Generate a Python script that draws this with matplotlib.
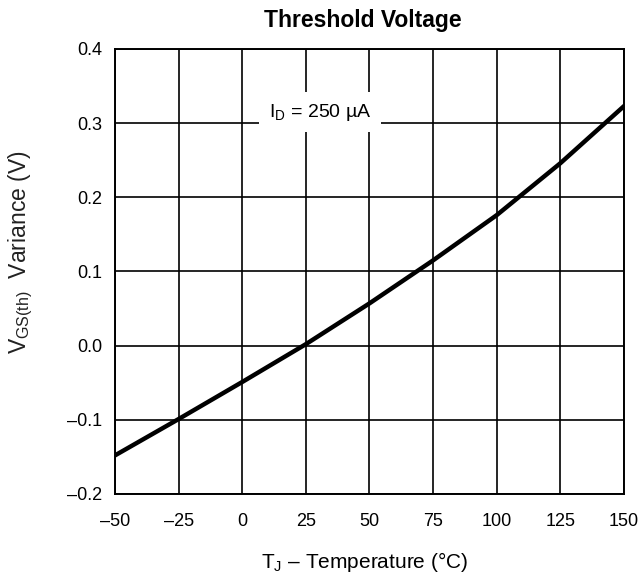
import matplotlib
matplotlib.use('Agg')
import matplotlib.pyplot as plt

plt.rcParams['font.family'] = ['Liberation Sans', 'DejaVu Sans']
plt.rcParams['mathtext.fontset'] = 'custom'
plt.rcParams['mathtext.rm'] = 'Liberation Sans'

# Valeurs
temperature = [-50, -25, 0, 25, 50, 75, 100, 125, 150]
variance = [-0.148, -0.099, -0.049, 0.002, 0.057, 0.115, 0.176, 0.246, 0.323]

x_ticks = [-50, -25, 0, 25, 50, 75, 100, 125, 150]
x_labels = ['\u201350', '\u201325', '0', '25', '50', '75', '100', '125', '150']
y_ticks = [-0.2, -0.1, 0.0, 0.1, 0.2, 0.3, 0.4]
y_labels = ['\u20130.2', '\u20130.1', '0.0', '0.1', '0.2', '0.3', '0.4']

fig = plt.figure(figsize=(6.43, 5.76), dpi=100)
ax = fig.add_axes([0.1788, 0.1424, 0.7917, 0.7726])

ax.plot(temperature, variance, color='black', linewidth=3.2, zorder=3)

ax.set_xlim(-50, 150)
ax.set_ylim(-0.2, 0.4)
ax.set_xticks(x_ticks)
ax.set_xticklabels(x_labels)
ax.set_yticks(y_ticks)
ax.set_yticklabels(y_labels)
ax.tick_params(length=0, labelsize=13)
ax.tick_params(axis='x', pad=14)
ax.tick_params(axis='y', pad=9)
ax.grid(True, color='black', linewidth=1.2)
for s in ax.spines.values():
    s.set_linewidth(1.4)

# Annotation avec fond blanc
ax.text(30.5, 0.315, 'I$_\\mathregular{D}$ = 250 \u00b5A', fontsize=14,
        ha='center', va='center', zorder=4,
        bbox=dict(facecolor='white', edgecolor='none', pad=7))

ax.set_title('Threshold Voltage', fontsize=16.5, fontweight='bold', x=0.487, y=1.05, pad=0)
ax.set_xlabel('T$_\\mathregular{J}$ \u2013 Temperature (\u00b0C)', fontsize=15)
ax.xaxis.set_label_coords(0.491, -0.125)
ax.set_ylabel('V$_\\mathregular{GS(th)}$  Variance (V)', fontsize=16.5, color='#222222')
ax.yaxis.set_label_coords(-0.158, 0.544)

fig.savefig('out.png', dpi=100)
